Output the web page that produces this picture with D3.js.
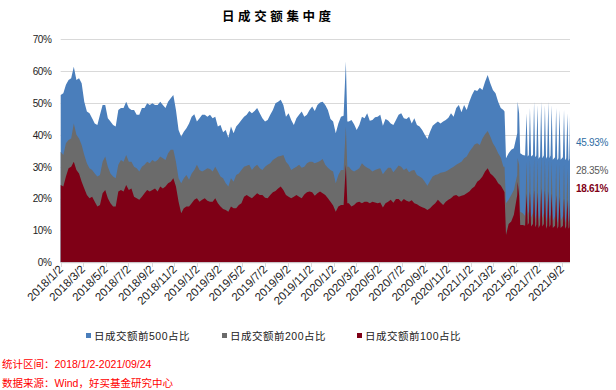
<!DOCTYPE html>
<html><head><meta charset="utf-8">
<script src="https://cdn.jsdelivr.net/npm/d3@7"></script>
<style>body{margin:0;background:#fff}svg{display:block}</style>
</head><body><svg id="c" width="616" height="390"></svg>
<script>
const title = "日成交额集中度";
const seriesNames = ["日成交额前500占比","日成交额前200占比","日成交额前100占比"];
const lastLabels = ["45.93%","28.35%","18.61%"];
const yTicks = [0,10,20,30,40,50,60,70];
const xTickLabels = ["2018/1/2","2018/3/2","2018/5/2","2018/7/2","2018/9/2","2018/11/2",
 "2019/1/2","2019/3/2","2019/5/2","2019/7/2","2019/9/2","2019/11/2",
 "2020/1/2","2020/3/2","2020/5/2","2020/7/2","2020/9/2","2020/11/2",
 "2021/1/2","2021/3/2","2021/5/2","2021/7/2","2021/9/2"];
const notes = ["统计区间：2018/1/2-2021/09/24","数据来源：Wind，好买基金研究中心"];

const dates = [
"2018-01-02","2018-01-09","2018-01-16","2018-01-23","2018-01-30","2018-02-06","2018-02-13","2018-02-20","2018-02-27","2018-03-06","2018-03-13","2018-03-20","2018-03-27","2018-04-03","2018-04-10","2018-04-17","2018-04-24","2018-05-01","2018-05-08","2018-05-15","2018-05-22","2018-05-29","2018-06-05","2018-06-12","2018-06-19","2018-06-26","2018-07-03","2018-07-10","2018-07-17","2018-07-24","2018-07-31","2018-08-07","2018-08-14","2018-08-21","2018-08-28","2018-09-04","2018-09-11","2018-09-18","2018-09-25","2018-10-02","2018-10-09","2018-10-16","2018-10-23","2018-10-30","2018-11-06","2018-11-13","2018-11-20","2018-11-27","2018-12-04","2018-12-11","2018-12-18","2018-12-25",
"2019-01-01","2019-01-08","2019-01-15","2019-01-22","2019-01-29","2019-02-05","2019-02-12","2019-02-19","2019-02-26","2019-03-05","2019-03-12","2019-03-19","2019-03-26","2019-04-02","2019-04-09","2019-04-16","2019-04-23","2019-04-30","2019-05-07","2019-05-14","2019-05-21","2019-05-28","2019-06-04","2019-06-11","2019-06-18","2019-06-25","2019-07-02","2019-07-09","2019-07-16","2019-07-23","2019-07-30","2019-08-06","2019-08-13","2019-08-20","2019-08-27","2019-09-03","2019-09-10","2019-09-17","2019-09-24","2019-10-01","2019-10-08","2019-10-15","2019-10-22","2019-10-29","2019-11-05","2019-11-12","2019-11-19","2019-11-26","2019-12-03","2019-12-10","2019-12-17","2019-12-24","2019-12-31",
"2020-01-07","2020-01-14","2020-01-21","2020-01-28","2020-02-03","2020-02-07","2020-02-11","2020-02-18","2020-02-25","2020-03-03","2020-03-10","2020-03-17","2020-03-24","2020-03-31","2020-04-07","2020-04-14","2020-04-21","2020-04-28","2020-05-05","2020-05-12","2020-05-19","2020-05-26","2020-06-02","2020-06-09","2020-06-16","2020-06-23","2020-06-30","2020-07-07","2020-07-14","2020-07-21","2020-07-28","2020-08-04","2020-08-11","2020-08-18","2020-08-25","2020-09-01","2020-09-08","2020-09-15","2020-09-22","2020-09-29","2020-10-06","2020-10-13","2020-10-20","2020-10-27","2020-11-03","2020-11-10","2020-11-17","2020-11-24","2020-12-01","2020-12-08","2020-12-15","2020-12-22","2020-12-29",
"2021-01-05","2021-01-12","2021-01-19","2021-01-26","2021-02-02","2021-02-09","2021-02-16","2021-02-23","2021-03-02","2021-03-09","2021-03-16","2021-03-23","2021-03-30","2021-04-02","2021-04-06","2021-04-13","2021-04-20","2021-04-27","2021-05-06","2021-05-07","2021-05-11","2021-05-14","2021-05-21","2021-05-27","2021-05-31","2021-06-03","2021-06-06","2021-06-09","2021-06-12","2021-06-17","2021-06-20","2021-06-23","2021-06-26","2021-06-29","2021-07-02","2021-07-06","2021-07-09","2021-07-12","2021-07-16","2021-07-19","2021-07-22","2021-07-25","2021-07-28","2021-07-31","2021-08-03","2021-08-06","2021-08-09","2021-08-15","2021-08-18","2021-08-21","2021-08-24","2021-08-27","2021-08-30","2021-09-05","2021-09-08","2021-09-11","2021-09-14","2021-09-17","2021-09-20","2021-09-22","2021-09-24"];

const top500 = [
52.5,53.1,55.7,57.2,57.8,61.4,57.2,57.8,56.2,50.4,47.3,46.8,45.2,43.6,43.1,46.3,49.4,49.4,45.2,44.2,43.1,42.6,47.8,48.4,48.4,50.4,48.4,47.8,47.8,46.3,46.3,48.4,48.4,49.9,49.4,49.9,49.4,49.4,50.4,49.4,48.4,50.4,51.5,52.5,47.8,41.5,39.5,41.0,42.1,43.6,45.7,46.5,
44.2,45.2,46.3,46.3,45.7,46.3,45.2,45.7,42.6,43.1,40.8,41.5,39.1,42.6,40.5,42.6,43.6,44.7,45.7,46.3,47.5,46.8,47.5,48.4,46.8,45.2,44.2,44.7,46.3,47.8,49.9,50.4,51.0,49.4,45.7,46.8,44.7,43.1,45.2,46.3,47.3,45.7,46.3,47.8,48.9,47.5,49.4,50.2,50.4,49.4,47.8,45.0,44.2,
40.5,43.6,45.7,46.0,63.0,44.2,44.2,44.7,43.3,41.5,43.1,45.7,45.2,46.8,44.4,44.7,45.5,45.7,46.3,42.9,45.0,44.5,43.6,43.1,44.7,46.3,46.8,45.2,45.0,45.7,43.6,45.2,43.1,42.6,41.5,40.0,38.7,41.0,42.9,43.6,44.2,43.6,44.2,44.7,45.4,46.8,45.7,48.4,49.4,47.1,49.4,47.8,50.4,
52.5,54.1,53.8,54.8,54.1,56.7,58.8,56.2,54.1,53.1,50.4,48.4,47.8,47.3,32.7,34.2,35.3,35.8,40.5,50.4,46.8,34.2,33.7,33.5,46.8,33.2,33.7,48.4,33.2,33.7,50.4,33.0,33.5,49.4,32.5,33.2,50.4,32.7,33.5,49.4,32.5,33.2,50.4,32.7,33.5,49.4,32.2,33.0,48.4,32.0,32.7,47.8,32.2,33.0,47.8,32.0,32.7,46.8,31.8,32.5,45.93];

const top200 = [
34.7,33.7,37.4,38.4,38.9,43.6,40.0,38.9,36.8,33.7,31.1,29.5,29.0,27.9,26.9,27.4,31.6,33.2,30.0,27.9,26.9,26.4,30.6,32.1,31.6,33.7,31.6,31.6,30.0,29.5,28.5,30.0,30.6,31.6,31.1,32.1,31.6,32.1,33.2,32.7,32.1,34.2,35.3,35.3,31.6,26.4,24.8,26.4,27.4,25.9,27.9,29.0,
30.6,29.0,28.5,29.0,29.5,29.3,28.5,30.0,28.5,26.9,26.4,24.8,23.8,26.4,25.3,27.4,27.9,29.0,30.0,30.3,30.6,29.0,30.0,30.6,29.5,29.0,30.0,30.6,31.1,32.1,32.7,33.2,33.4,33.7,31.6,30.6,29.0,29.5,30.0,30.6,29.7,30.0,31.1,31.6,31.6,31.1,31.4,31.8,32.4,30.6,29.7,29.0,28.5,
24.8,27.4,29.0,29.0,42.6,30.0,30.0,29.0,28.5,29.0,29.5,31.1,30.2,29.7,29.3,28.5,29.0,29.3,29.5,27.6,28.7,29.7,29.7,28.3,29.3,30.4,30.0,29.0,29.5,28.3,28.8,29.0,27.4,26.9,26.4,25.3,24.0,25.5,26.9,27.4,27.6,28.1,28.3,28.5,29.0,29.5,30.0,30.6,31.1,31.6,32.7,33.2,34.7,
35.8,37.0,37.4,36.8,38.9,40.2,41.2,39.5,37.4,36.0,34.2,32.9,30.0,30.0,18.5,19.6,21.1,22.7,27.4,32.7,30.6,15.9,15.4,14.5,31.6,15.0,16.0,32.1,14.0,15.5,32.7,13.5,15.0,32.1,13.0,14.8,33.2,14.0,15.5,32.7,12.8,14.5,32.1,13.5,15.0,31.6,13.0,14.5,31.1,12.5,14.0,30.6,13.0,14.5,30.6,12.5,14.0,29.5,12.5,13.5,28.35];

const top100 = [
24.3,23.8,26.9,29.5,30.0,31.6,29.0,27.9,25.3,23.2,21.1,20.1,20.6,19.0,17.5,18.0,21.7,22.7,20.1,18.5,17.5,17.5,22.2,22.7,22.2,24.3,22.7,23.2,20.6,20.1,19.6,20.6,21.7,22.7,22.2,22.7,23.2,22.2,23.8,23.2,23.8,24.8,25.3,26.4,23.8,19.0,15.4,17.0,17.5,17.5,18.5,19.6,
20.1,19.0,19.6,20.1,19.3,19.0,19.0,20.1,18.5,17.5,16.7,16.4,15.9,17.5,17.0,17.0,18.0,18.5,20.6,21.1,20.6,20.1,20.9,21.7,21.1,21.1,20.3,20.1,21.1,22.0,22.4,23.2,23.8,22.7,21.1,20.6,20.1,20.6,21.1,20.6,20.1,21.3,22.0,22.2,22.0,20.9,21.7,22.2,21.7,21.1,20.1,19.0,17.8,
15.9,17.5,18.0,18.0,30.6,18.5,18.5,17.5,18.0,18.8,19.0,18.5,19.0,19.0,18.5,19.0,18.8,18.5,18.8,17.2,18.5,19.0,19.6,18.7,19.9,19.9,19.0,19.9,19.3,19.0,19.5,18.5,18.2,17.7,17.3,17.0,16.4,17.0,17.8,18.5,19.6,18.8,18.0,19.0,19.6,20.1,20.9,21.1,20.6,20.9,21.1,21.7,22.2,
23.2,23.8,25.3,25.9,26.9,28.5,29.5,27.9,27.2,26.2,24.8,24.1,22.7,22.0,8.6,12.0,12.8,14.9,21.1,25.3,21.1,11.7,11.7,11.5,21.5,11.7,12.3,22.2,11.2,12.0,22.7,11.0,11.8,22.0,10.8,11.7,23.2,11.2,12.0,22.7,10.5,11.5,22.2,11.0,11.8,21.7,10.8,11.5,21.1,10.5,11.2,20.6,10.8,11.5,20.1,10.5,11.2,19.6,10.5,11.0,18.61];

const colors = ["#4a7ebb","#6b6b6b","#7f0016"];
const labelColors = ["#2e6da4","#595959","#7f0016"];

const parse = d3.timeParse("%Y-%m-%d");
const parseTick = d3.timeParse("%Y/%m/%d");
const svg = d3.select("#c");
const W = 616;
const x = d3.scaleTime().domain([parse("2018-01-02"), parse("2021-09-24")]).range([60.7, 570]);
const y = d3.scaleLinear().domain([0,70]).range([262.3, 39.3]);

const latin = "'Liberation Sans', Arial, 'Noto Sans CJK SC', sans-serif";
const cjk = "'Liberation Sans', 'Noto Sans CJK SC', sans-serif";

svg.append("text").attr("x", 222).attr("y", 21).attr("font-family","'Noto Sans CJK SC', sans-serif")
  .attr("font-size", 12.5).attr("font-weight","bold").attr("letter-spacing", 3.6).attr("fill","#000").text(title);

// gridlines
svg.append("g").selectAll("line").data(yTicks.filter(d=>d>0)).join("line")
  .attr("x1", 60.7).attr("x2", 570).attr("y1", d=>Math.round(y(d))+0.5).attr("y2", d=>Math.round(y(d))+0.5)
  .attr("stroke","#d9d9d9").attr("stroke-width",1);

// y labels
svg.append("g").selectAll("text").data(yTicks).join("text")
  .attr("x", 51.5).attr("y", d=>y(d)+3.8).attr("text-anchor","end")
  .attr("font-family", latin).attr("font-size", 10).attr("letter-spacing", -0.4).attr("fill","#222")
  .text(d=>d+"%");

const data = dates.map((d,i)=>({date: parse(d), v:[top500[i], top200[i], top100[i]]}));
console.log(dates.length, top500.length, top200.length, top100.length);

[0,1,2].forEach(k=>{
  const area = d3.area().x(d=>x(d.date)).y0(y(0)).y1(d=>y(d.v[k]));
  svg.append("path").datum(data).attr("d", area).attr("fill", colors[k]);
});

// baseline axis
svg.append("line").attr("x1",60.7).attr("x2",570).attr("y1",262.8).attr("y2",262.8).attr("stroke","#d9d9d9");
const tickDates = xTickLabels.map(parseTick);
svg.append("g").selectAll("line").data(tickDates).join("line")
  .attr("x1", d=>Math.round(x(d))+0.5).attr("x2", d=>Math.round(x(d))+0.5)
  .attr("y1", 262.8).attr("y2", 267).attr("stroke","#d9d9d9");
svg.append("g").selectAll("text").data(xTickLabels).join("text")
  .attr("transform", (d,i)=>`translate(${x(tickDates[i])+3},${270}) rotate(-45)`)
  .attr("text-anchor","end").attr("font-family", latin).attr("font-size", 11.5).attr("fill","#222")
  .text(d=>d);

// right labels
const labelY = [146, 174, 192];
svg.append("g").selectAll("text").data(lastLabels).join("text")
  .attr("x", 576).attr("y", (d,i)=>labelY[i]).attr("font-family", latin).attr("font-size", 10)
  .attr("letter-spacing", -0.3).attr("fill", (d,i)=>labelColors[i]).attr("font-weight", (d,i)=>i===2?"bold":"normal")
  .text(d=>d);

// legend
const legX = [86, 222, 357];
const leg = svg.append("g").selectAll("g").data(seriesNames).join("g")
  .attr("transform", (d,i)=>`translate(${legX[i]},0)`);
leg.append("rect").attr("x",0).attr("y",333).attr("width",5).attr("height",5).attr("fill",(d,i)=>colors[i]);
leg.append("text").attr("x",8).attr("y",340).attr("font-family", cjk).attr("font-size",10.5).attr("letter-spacing",0.5).attr("fill","#222").text(d=>d);

// notes
svg.append("g").selectAll("text").data(notes).join("text")
  .attr("x", 2).attr("y", (d,i)=>368 + i*18.5).attr("font-family", cjk).attr("font-size", 10.5)
  .attr("fill","#ff0000").text(d=>d);
</script></body></html>
